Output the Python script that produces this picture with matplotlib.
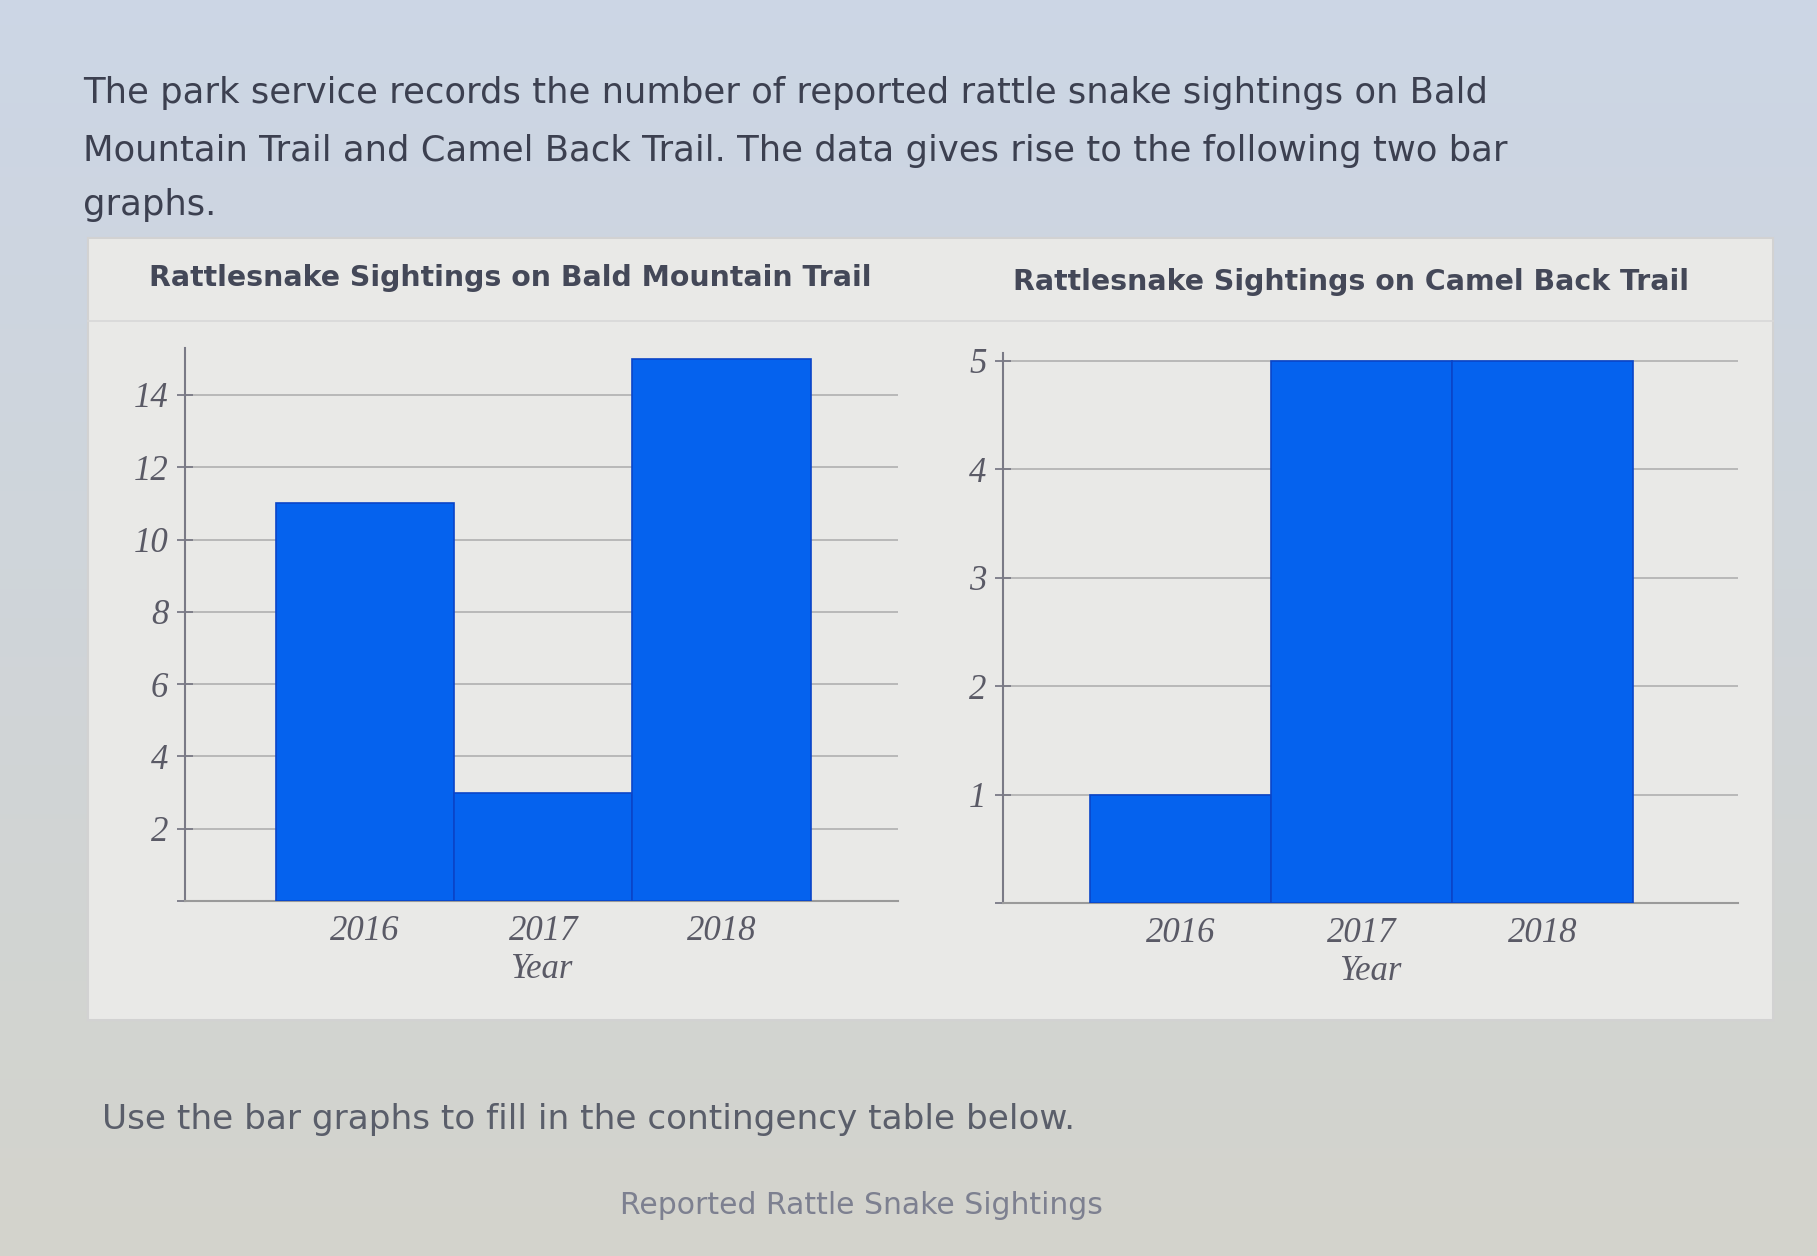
import numpy as np
import matplotlib
matplotlib.use("Agg")
import matplotlib.pyplot as plt
from matplotlib.patches import Rectangle

# data
years = ["2016", "2017", "2018"]
bald_mountain = [11, 3, 15]
camel_back = [1, 5, 5]
bald_ticks = [0, 2, 4, 6, 8, 10, 12, 14]
camel_ticks = [0, 1, 2, 3, 4, 5]

BAR = "#0562ee"
EDGE = "#0a45c8"
TEXT = "#3c4050"
AXIS = "#7a7a86"
GRID = "#b8b8b8"
TICK = "#5a5a66"

fig = plt.figure(figsize=(18.17, 12.56), dpi=100)

# photographed screen background
bg = fig.add_axes([0, 0, 1, 1], zorder=-10)
top = np.array([0.80, 0.84, 0.90])
bottom = np.array([0.83, 0.83, 0.80])
t = np.linspace(0, 1, 256)[:, None, None]
grad = top * (1 - t) + bottom * t
grad = np.repeat(grad, 4, axis=1)
bg.imshow(grad, aspect="auto", extent=[0, 1, 0, 1])
bg.set_xlim(0, 1)
bg.set_ylim(0, 1)
bg.axis("off")

# panel holding the two graphs
bg.add_patch(Rectangle((88 / 1817, 1 - 1020 / 1256), (1773 - 88) / 1817, (1020 - 238) / 1256,
                       facecolor="#e9e9e7", edgecolor="#d2d2d2", lw=1.5, zorder=1))
bg.plot([88 / 1817, 1773 / 1817], [1 - 321 / 1256] * 2, color="#d8d8d8", lw=1.2, zorder=2)

fig.text(83 / 1817, 1 - 93 / 1256, "The park service records the number of reported rattle snake sightings on Bald",
         fontsize=25.5, color=TEXT, va="center", family="DejaVu Sans")
fig.text(83 / 1817, 1 - 151 / 1256, "Mountain Trail and Camel Back Trail. The data gives rise to the following two bar",
         fontsize=25.5, color=TEXT, va="center", family="DejaVu Sans")
fig.text(83 / 1817, 1 - 205 / 1256, "graphs.", fontsize=25.5, color=TEXT, va="center", family="DejaVu Sans")

fig.text(510 / 1817, 1 - 278 / 1256, "Rattlesnake Sightings on Bald Mountain Trail", fontsize=20.4,
         fontweight="bold", color="#444858", ha="center", va="center", family="DejaVu Sans")
fig.text(1351 / 1817, 1 - 282 / 1256, "Rattlesnake Sightings on Camel Back Trail", fontsize=20.4,
         fontweight="bold", color="#444858", ha="center", va="center", family="DejaVu Sans")

fig.text(102 / 1817, 1 - 1120 / 1256, "Use the bar graphs to fill in the contingency table below.",
         fontsize=24.7, color="#5a5e6a", va="center", family="DejaVu Sans")
fig.text(861 / 1817, 1 - 1205 / 1256, "Reported Rattle Snake Sightings",
         fontsize=21.5, color="#7d8090", ha="center", va="center", family="DejaVu Sans")


def bar_panel(rect, values, ticks, ylim, xlim):
    ax = fig.add_axes(rect)
    ax.set_facecolor("none")
    x = np.arange(len(years))
    ax.bar(x, values, width=1.0, color=BAR, edgecolor=EDGE, linewidth=1.2, zorder=3)
    ax.set_xlim(*xlim)
    ax.set_ylim(*ylim)
    ax.set_yticks(ticks)
    ax.set_yticklabels([""] + [str(v) for v in ticks[1:]])
    ax.set_xticks(x)
    ax.set_xticklabels(years)
    ax.yaxis.grid(True, color=GRID, lw=1.4, zorder=0)
    ax.set_axisbelow(True)
    for s in ["top", "right"]:
        ax.spines[s].set_visible(False)
    for s in ["left", "bottom"]:
        ax.spines[s].set_color(AXIS)
        ax.spines[s].set_linewidth(1.5)
    ax.spines["bottom"].set_color("#9a9a9a")
    ax.tick_params(axis="y", direction="inout", length=12, width=1.3, color=AXIS,
                   labelsize=25, labelcolor=TICK, pad=6)
    ax.tick_params(axis="x", length=0, labelsize=25, labelcolor=TICK, pad=10)
    for lab in ax.get_xticklabels() + ax.get_yticklabels():
        lab.set_family("Liberation Serif")
        lab.set_style("italic")
    ax.set_xlabel("Year", fontsize=25, color=TICK, family="Liberation Serif",
                  style="italic", labelpad=4)
    return ax


bar_panel([185 / 1817, 1 - 901 / 1256, (898 - 185) / 1817, (901 - 348) / 1256],
          bald_mountain, bald_ticks, (0, 15.3), (-1.01, 2.99))
bar_panel([1003 / 1817, 1 - 903 / 1256, (1738 - 1003) / 1817, (903 - 353) / 1256],
          camel_back, camel_ticks, (0, 5.07), (-0.98, 3.08))

fig.savefig("out.png", dpi=100)
